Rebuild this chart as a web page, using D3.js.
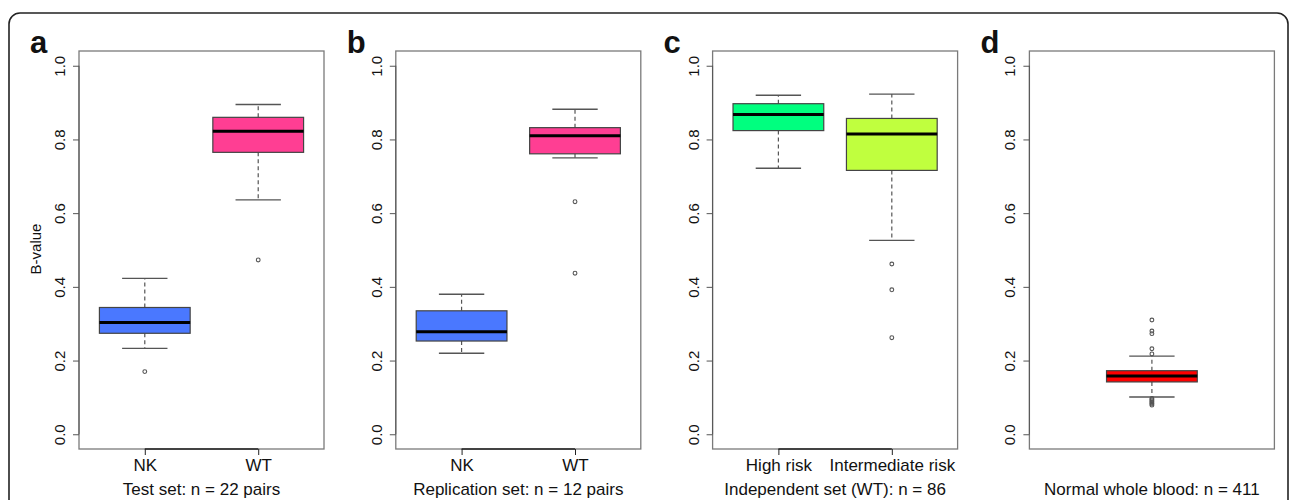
<!DOCTYPE html>
<html>
<head>
<meta charset="utf-8">
<script src="https://cdn.jsdelivr.net/npm/d3@7"></script>
<style>
  body { margin:0; background:#fff; }
  text { font-family: "Liberation Sans", Arial, sans-serif; fill:#111; }
</style>
</head>
<body>
<div id="chart"></div>
<script>
// panel text
const panelLetters = ["a", "b", "c", "d"]
const panelTitles = ["Test set: n = 22 pairs", "Replication set: n = 12 pairs",
                     "Independent set (WT): n = 86", "Normal whole blood: n = 411"]
const yTicks = [0, 0.2, 0.4, 0.6, 0.8, 1.0]

// a
const catsA = ["NK", "WT"]
const statsA = [[0.233, 0.274, 0.303, 0.344, 0.423], [0.636, 0.765, 0.822, 0.860, 0.895]] // lo,q1,med,q3,hi
const outA = [[0.170], [0.473]]
const colA = ["#4a78ff", "#ff3e93"]
// b
const catsB = ["NK", "WT"]
const statsB = [[0.220, 0.253, 0.278, 0.335, 0.380], [0.750, 0.761, 0.810, 0.832, 0.882]]
const outB = [[], [0.631, 0.437]]
const colB = ["#4a78ff", "#ff3e93"]
// c
const catsC = ["High risk", "Intermediate risk"]
const statsC = [[0.722, 0.824, 0.868, 0.897, 0.920], [0.526, 0.716, 0.815, 0.857, 0.923]]
const outC = [[], [0.462, 0.392, 0.262]]
const colC = ["#00ff7f", "#c0ff3e"]
// d
const catsD = [""]
const statsD = [[0.101, 0.142, 0.158, 0.1725, 0.212]]
const outD = [[0.310, 0.280, 0.273, 0.232, 0.218, 0.097, 0.094, 0.091, 0.088, 0.085, 0.082, 0.079]]
const colD = ["#ff0000"]

const panels = [
  { cats: catsA, stats: statsA, out: outA, col: colA, axis: true },
  { cats: catsB, stats: statsB, out: outB, col: colB, axis: true },
  { cats: catsC, stats: statsC, out: outC, col: colC, axis: true },
  { cats: catsD, stats: statsD, out: outD, col: colD, axis: false }
]

let width = 1290, height = 500,
    plotW = 245, plotTop = 51, plotBottom = 449,
    firstLeft = 79, gap = 316.8

let svg = d3.select("#chart").append("svg").attr("width", width).attr("height", height)

// outer rounded frame
svg.append("rect").attr("x", 9).attr("y", 13).attr("width", 1279).attr("height", 520)
  .attr("rx", 11).attr("fill", "none").attr("stroke", "#222").attr("stroke-width", 1.6)

let yScale = d3.scaleLinear().domain([-0.04, 1.04]).range([plotBottom, plotTop])
let unit = plotW / 2.16, boxW = 0.8 * unit

panels.forEach((p, i) => {
  let left = firstLeft + i * gap
  let g = svg.append("g").attr("transform", `translate(${left},0)`)
  let xScale = d3.scalePoint().domain(p.cats).range([0, plotW]).padding(0.58).align(0.5)
  if (p.cats.length === 1) xScale.padding(0.5)

  // plot frame
  g.append("rect").attr("x", 0).attr("y", plotTop).attr("width", plotW).attr("height", plotBottom - plotTop)
    .attr("fill", "none").attr("stroke", "#7a7a7a").attr("stroke-width", 1.3)

  // y axis
  let yAxis = d3.axisLeft(yScale).tickValues(yTicks).tickFormat(d3.format(".1f")).tickSize(6).tickPadding(0)
  let ya = g.append("g").call(yAxis)
  ya.select(".domain").attr("d", `M0,${yScale(0)}V${yScale(1)}`).attr("stroke", "#555")
  ya.selectAll(".tick line").attr("stroke", "#555")
  ya.selectAll(".tick text").attr("transform", "rotate(-90)").attr("x", 0).attr("y", -14).attr("dy", 0)
    .attr("text-anchor", "middle").style("font-size", "15px").style("font-family", "Liberation Sans, Arial")
    .attr("fill", "#111")

  // x axis
  if (p.axis) {
    let xAxis = d3.axisBottom(xScale).tickSize(6).tickPadding(0)
    let xa = g.append("g").attr("transform", `translate(0,${plotBottom})`).call(xAxis)
    let pts = p.cats.map(c => xScale(c))
    xa.select(".domain").attr("d", `M${pts[0]},0H${pts[pts.length - 1]}`).attr("stroke", "#222").attr("stroke-width", 1.3)
    xa.selectAll(".tick line").attr("stroke", "#222")
    xa.selectAll(".tick text").attr("y", 22).attr("dy", 0).style("font-size", "17px")
      .style("font-family", "Liberation Sans, Arial").attr("fill", "#111")
  }

  // whiskers
  p.stats.forEach((s, j) => {
    let cx = xScale(p.cats[j])
    let bg = g.append("g")
    bg.append("line").attr("x1", cx).attr("x2", cx).attr("y1", yScale(s[3])).attr("y2", yScale(s[4]))
      .attr("stroke", "#555").attr("stroke-dasharray", "4,3").attr("stroke-width", 1.2)
    bg.append("line").attr("x1", cx).attr("x2", cx).attr("y1", yScale(s[1])).attr("y2", yScale(s[0]))
      .attr("stroke", "#555").attr("stroke-dasharray", "4,3").attr("stroke-width", 1.2)
    ;[s[0], s[4]].forEach(v => {
      bg.append("line").attr("x1", cx - boxW / 4).attr("x2", cx + boxW / 4)
        .attr("y1", yScale(v)).attr("y2", yScale(v)).attr("stroke", "#555").attr("stroke-width", 1.4)
    })
    bg.append("rect").attr("x", cx - boxW / 2).attr("width", boxW)
      .attr("y", yScale(s[3])).attr("height", yScale(s[1]) - yScale(s[3]))
      .attr("fill", p.col[j]).attr("stroke", "#444").attr("stroke-width", 1.2)
    bg.append("line").attr("x1", cx - boxW / 2).attr("x2", cx + boxW / 2)
      .attr("y1", yScale(s[2])).attr("y2", yScale(s[2])).attr("stroke", "#000").attr("stroke-width", 3)
    bg.selectAll("circle").data(p.out[j]).enter().append("circle")
      .attr("cx", cx).attr("cy", d => yScale(d)).attr("r", 1.9)
      .attr("fill", "none").attr("stroke", "#555").attr("stroke-width", 1.1)
  })

  // letter and subtitle
  g.append("text").attr("x", -49).attr("y", 53).text(panelLetters[i])
    .style("font-size", "31px").style("font-weight", "bold").attr("fill", "#000")
  g.append("text").attr("x", plotW / 2 - 0).attr("y", 495).attr("text-anchor", "middle")
    .text(panelTitles[i]).style("font-size", "17px")
})

// y label on first panel
svg.append("text").attr("transform", `translate(41,249) rotate(-90)`).attr("text-anchor", "middle")
  .text("B-value").style("font-size", "15px")
</script>
</body>
</html>
